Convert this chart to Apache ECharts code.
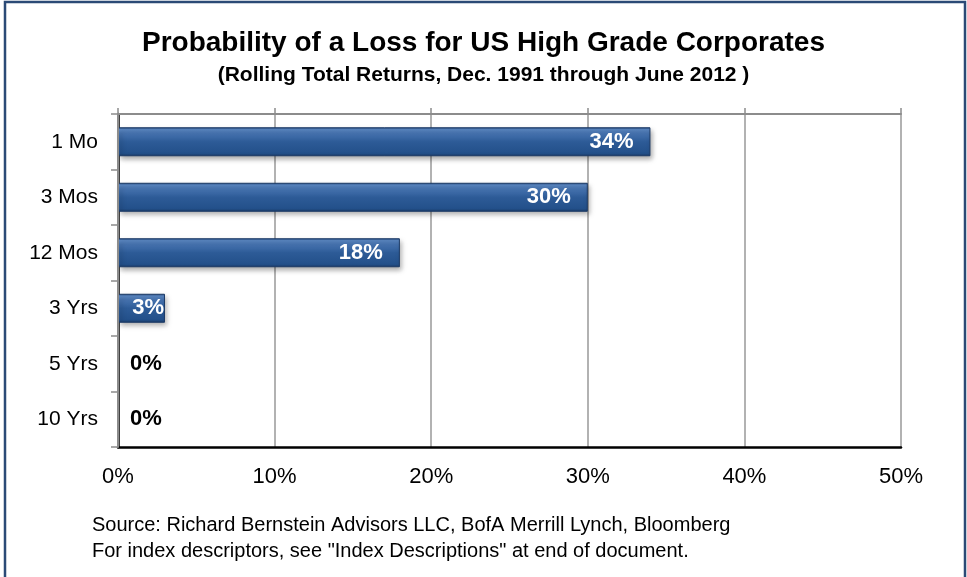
<!DOCTYPE html>
<html>
<head>
<meta charset="utf-8">
<script src="https://cdn.jsdelivr.net/npm/echarts@6/dist/echarts.min.js"></script>
<style>
  html, body { margin: 0; padding: 0; background: #fff; }
  #chart { width: 967px; height: 577px; }
</style>
</head>
<body>
<div id="chart"></div>
<script>
'use strict';

const periods = ['1 Mo', '3 Mos', '12 Mos', '3 Yrs', '5 Yrs', '10 Yrs'];
const lossProbability = [34, 30, 18, 3, 0, 0];
const xTicks = [0, 10, 20, 30, 40, 50];
const sourceLines = [
    'Source: Richard Bernstein Advisors LLC, BofA Merrill Lynch, Bloomberg',
    'For index descriptors, see "Index Descriptions" at end of document.'
];

(function () {
    const font = 'Arial, "Liberation Sans", Helvetica, sans-serif';
    const barFill = {
        type: 'linear', x: 0, y: 0, x2: 0, y2: 1,
        colorStops: [
            { offset: 0, color: '#24497c' },
            { offset: 0.08, color: '#5b88c4' },
            { offset: 0.22, color: '#4673b0' },
            { offset: 0.5, color: '#2d5b97' },
            { offset: 0.9, color: '#23508a' },
            { offset: 1, color: '#1a3a66' }
        ]
    };

    // label placement: inside the end of the bar, zero values sit just right of the axis
    const labelFor = v => {
        if (v === 0) {
            return { position: 'right', distance: 12, color: '#000' };
        }
        return { position: 'insideRight', distance: v < 5 ? 1 : 17, color: '#fff' };
    };

    const options = {
        animation: false,
        textStyle: { fontFamily: font },
        graphic: [
            {
                type: 'rect',
                shape: { x: 5, y: 2, width: 960, height: 590 },
                style: { fill: 'none', stroke: '#2b4a76', lineWidth: 2.5 },
                silent: true
            }
        ],
        title: [
            {
                text: 'Probability of a Loss for US High Grade Corporates',
                left: 'center',
                top: 24,
                textStyle: { fontSize: 28, fontWeight: 'bold', color: '#000', fontFamily: font }
            },
            {
                text: '(Rolling Total Returns, Dec. 1991 through June 2012 )',
                left: 'center',
                top: 60,
                textStyle: { fontSize: 21, fontWeight: 'bold', color: '#000', fontFamily: font }
            },
            {
                text: sourceLines.join('\n'),
                left: 87,
                top: 507,
                textStyle: { fontSize: 20, fontWeight: 'normal', color: '#000', fontFamily: font, lineHeight: 26 }
            }
        ],
        grid: {
            left: 118,
            right: 66,
            top: 114,
            bottom: 130
        },
        xAxis: [
            {
                type: 'value',
                position: 'bottom',
                min: 0,
                max: 50,
                interval: 10,
                axisLine: { show: true, lineStyle: { color: '#000', width: 2.5 } },
                axisTick: { show: false },
                axisLabel: {
                    margin: 19,
                    fontSize: 22,
                    color: '#000',
                    fontFamily: font,
                    formatter: v => (xTicks.includes(v) ? v + '%' : '')
                },
                splitLine: { show: true, lineStyle: { color: '#999', width: 1.5 } }
            },
            {
                type: 'value',
                position: 'top',
                min: 0,
                max: 50,
                interval: 10,
                axisLine: { show: true, lineStyle: { color: '#8c8c8c', width: 2 } },
                axisTick: { show: true, length: 6, lineStyle: { color: '#8c8c8c', width: 1.5 } },
                axisLabel: { show: false },
                splitLine: { show: false }
            }
        ],
        yAxis: [
            {
                type: 'category',
                inverse: true,
                data: periods,
                position: 'left',
                z: 5,
                axisLine: { show: true, lineStyle: { color: '#8c8c8c', width: 2 } },
                axisTick: { show: true, length: 7, lineStyle: { color: '#8c8c8c', width: 1.5 } },
                axisLabel: { margin: 20, fontSize: 21, color: '#000', fontFamily: font }
            },
            {
                type: 'category',
                inverse: true,
                data: periods,
                position: 'right',
                axisLine: { show: true, lineStyle: { color: '#000', width: 2.5 } },
                axisTick: { show: false },
                axisLabel: { show: false }
            }
        ],
        series: [
            {
                type: 'bar',
                xAxisIndex: 0,
                yAxisIndex: 0,
                barWidth: 29,
                data: lossProbability.map(v => ({
                    value: v,
                    label: labelFor(v),
                    itemStyle: v === 0 ? { borderWidth: 0, shadowBlur: 0, shadowOffsetX: 0, shadowOffsetY: 0 } : {}
                })),
                itemStyle: {
                    color: barFill,
                    borderColor: '#1b3a66',
                    borderWidth: 1,
                    shadowColor: 'rgba(0,0,0,0.35)',
                    shadowBlur: 5,
                    shadowOffsetX: 2,
                    shadowOffsetY: 3
                },
                label: {
                    show: true,
                    fontSize: 22,
                    fontWeight: 'bold',
                    fontFamily: font,
                    formatter: p => p.value + '%'
                }
            }
        ]
    };

    const chart = echarts.init(document.getElementById('chart'), null, { renderer: 'canvas' });
    chart.setOption(options);
})();
</script>
</body>
</html>
